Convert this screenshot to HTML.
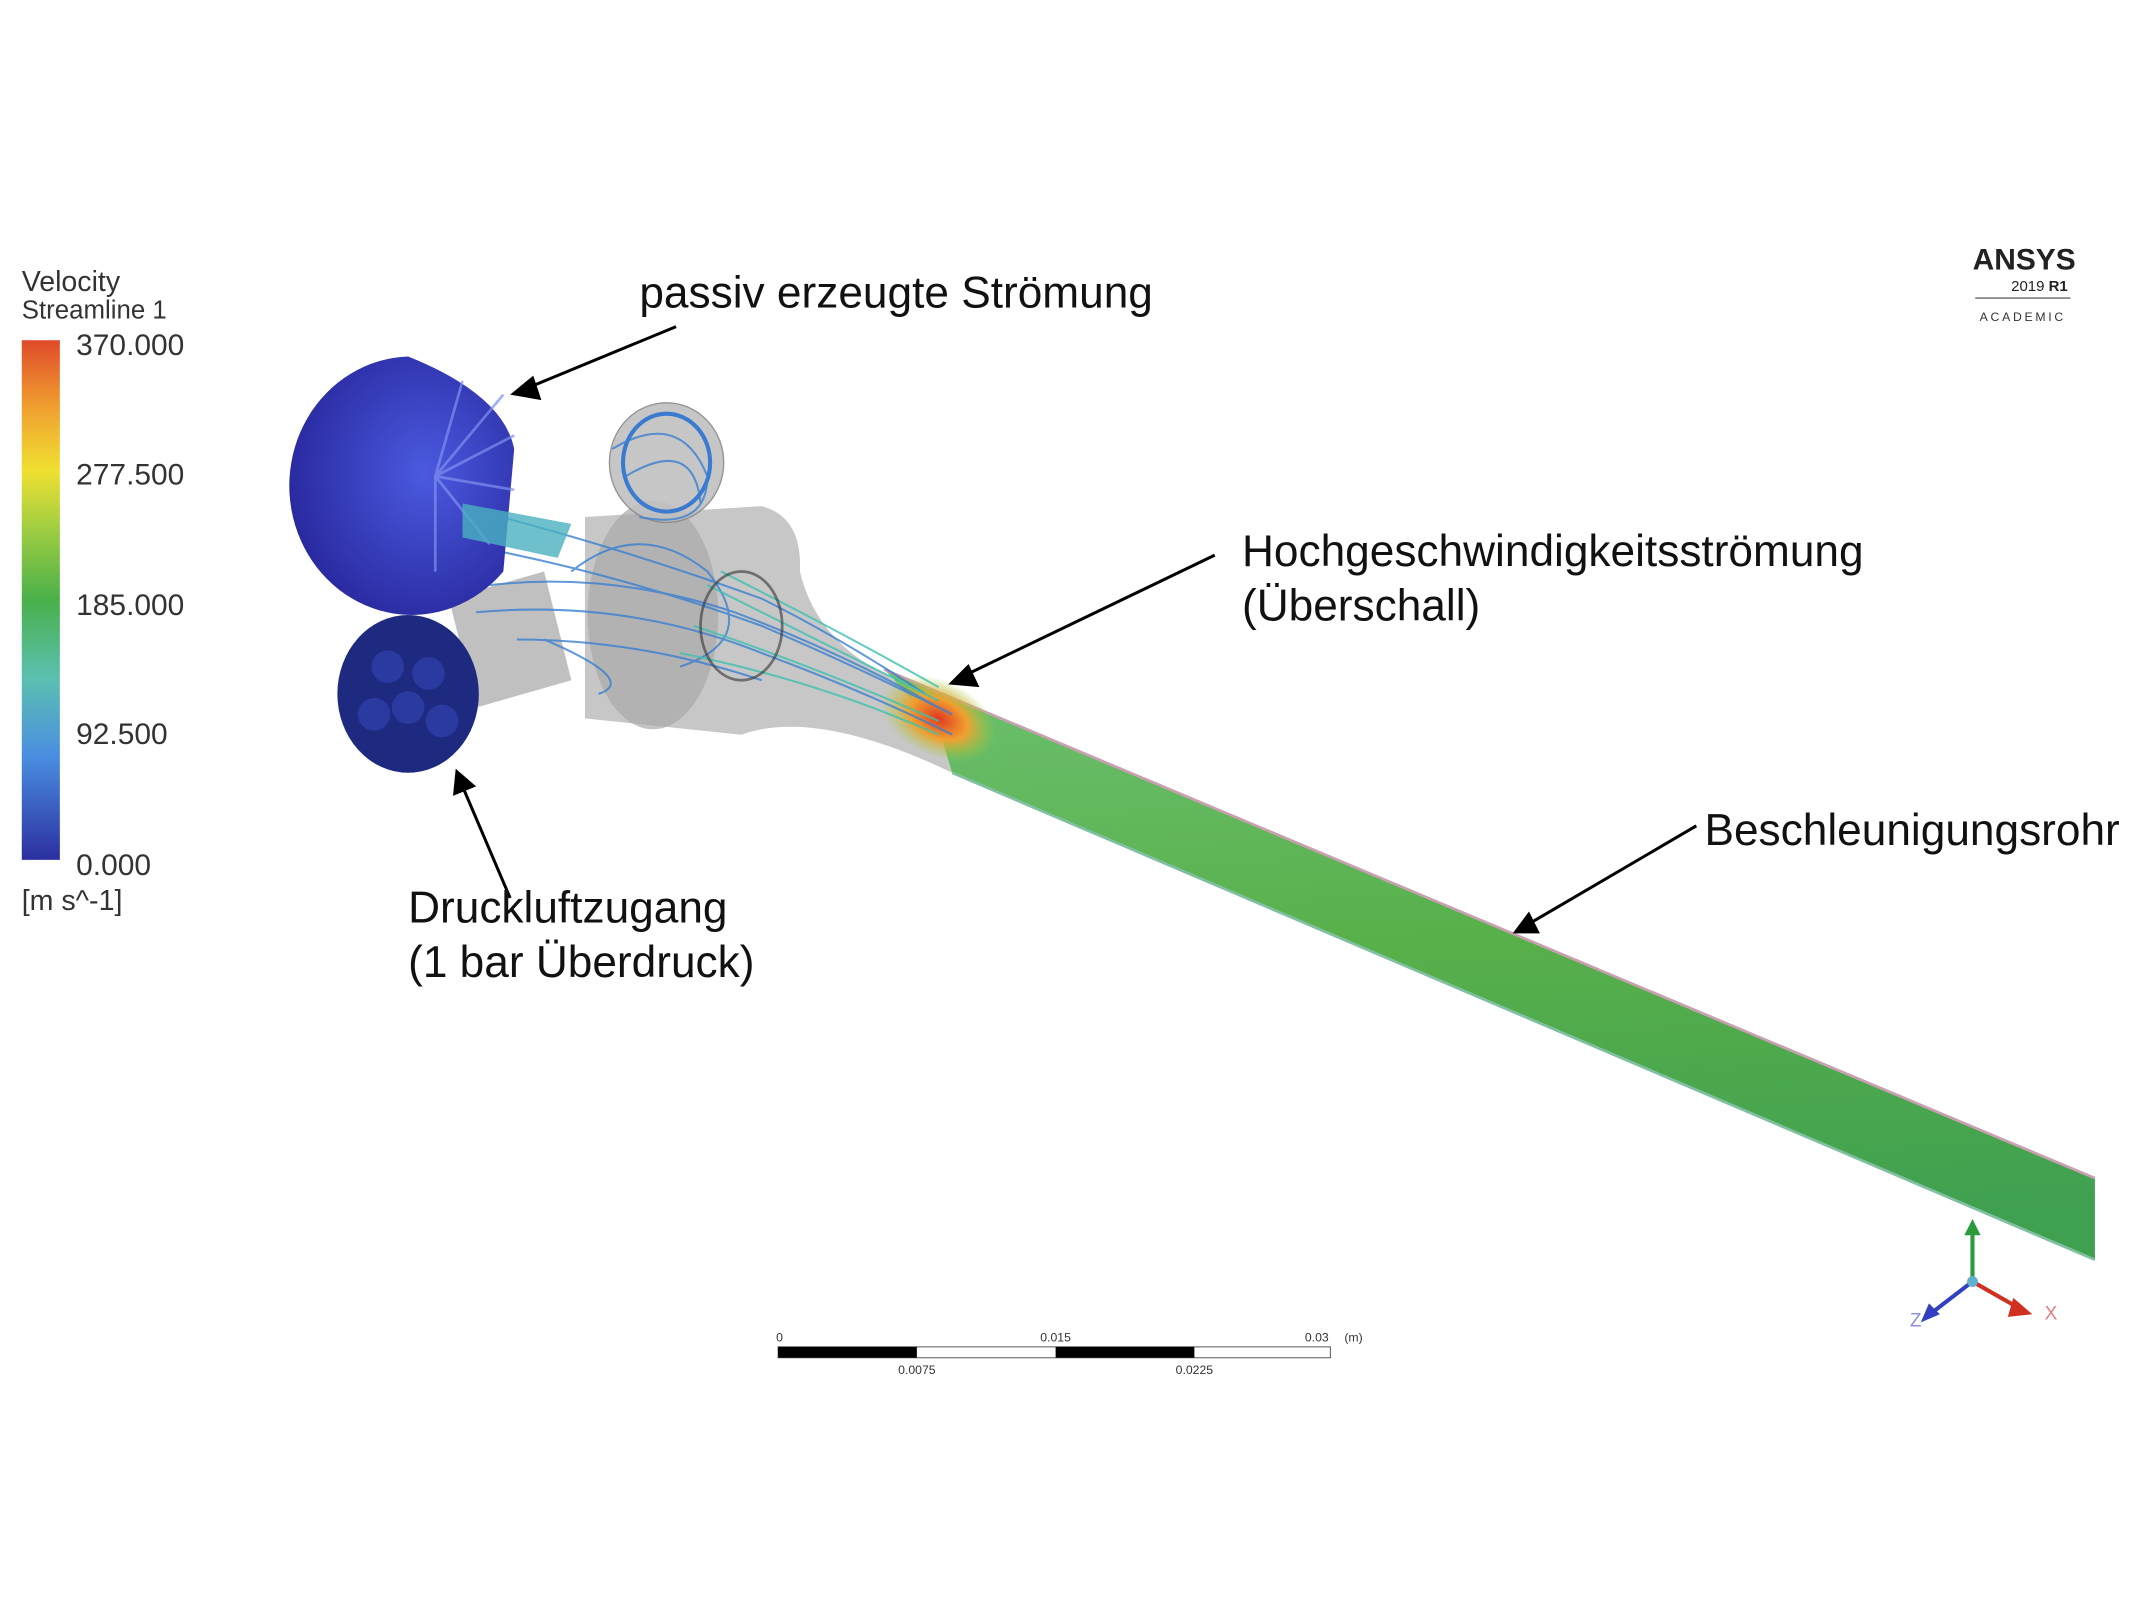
<!DOCTYPE html>
<html><head><meta charset="utf-8"><style>
html,body{margin:0;padding:0;background:#fff;}
svg{display:block;}
text{font-family:"Liberation Sans",Arial,sans-serif;}
</style></head><body>
<svg width="2133" height="1600" viewBox="0 0 1568 1176" xmlns="http://www.w3.org/2000/svg">
<defs>
<linearGradient id="cb" x1="0" y1="1" x2="0" y2="0">
<stop offset="0" stop-color="#2b2fa0"/><stop offset="0.2" stop-color="#4a8ee0"/>
<stop offset="0.35" stop-color="#5bc0b0"/><stop offset="0.5" stop-color="#49b04a"/>
<stop offset="0.65" stop-color="#a8d040"/><stop offset="0.75" stop-color="#f0e030"/>
<stop offset="0.87" stop-color="#f0a030"/><stop offset="1" stop-color="#e04a2a"/>
</linearGradient>
<linearGradient id="pipe" x1="0" y1="0" x2="0.1" y2="1">
<stop offset="0" stop-color="#6cc070"/><stop offset="0.5" stop-color="#58b04a"/><stop offset="1" stop-color="#3fa050"/>
</linearGradient>
<radialGradient id="hot" cx="0.5" cy="0.5" r="0.5">
<stop offset="0" stop-color="#e03a20"/><stop offset="0.5" stop-color="#f0a030"/><stop offset="1" stop-color="#a0d040" stop-opacity="0"/>
</radialGradient>
<radialGradient id="sph" cx="0.6" cy="0.45" r="0.6">
<stop offset="0" stop-color="#4a5ae0"/><stop offset="1" stop-color="#2a2aa0"/>
</radialGradient>
</defs>

<!-- legend -->
<text x="16" y="214" font-size="21" fill="#333">Velocity</text>
<text x="16" y="234" font-size="19" fill="#333">Streamline 1</text>
<rect x="16" y="250" width="28" height="382" fill="url(#cb)"/>
<g font-size="22" fill="#333">
<text x="56" y="261">370.000</text>
<text x="56" y="356">277.500</text>
<text x="56" y="452">185.000</text>
<text x="56" y="547">92.500</text>
<text x="56" y="643">0.000</text>
<text x="16" y="669" font-size="21">[m s^-1]</text>
</g>

<!-- ANSYS logo -->
<text x="1488" y="198" font-size="22" font-weight="bold" text-anchor="middle" fill="#222">ANSYS</text>
<text x="1520" y="214" font-size="11" text-anchor="end" fill="#222">2019 <tspan font-weight="bold">R1</tspan></text>
<line x1="1452" y1="219" x2="1522" y2="219" stroke="#666" stroke-width="1"/>
<text x="1487" y="236" font-size="9" letter-spacing="2" text-anchor="middle" fill="#333">ACADEMIC</text>

<!-- nozzle gray bodies -->
<path d="M430,380 L560,372 Q590,380 588,420 Q600,470 650,495 L700,530 L700,568 Q600,520 545,540 L430,528 Z" fill="#bdbdbd" opacity="0.85"/>
<ellipse cx="480" cy="452" rx="48" ry="84" fill="#aaaaaa" opacity="0.7"/>
<ellipse cx="490" cy="340" rx="42" ry="44" fill="#c0c0c0" stroke="#888" opacity="0.9"/>
<ellipse cx="490" cy="340" rx="32" ry="36" fill="none" stroke="#3a7ad0" stroke-width="3"/>
<path d="M330,440 L400,420 L420,500 L350,520 Z" fill="#b0b0b0" opacity="0.8"/>

<!-- pipe -->
<polygon points="650,492 1540,866 1540,926 700,568 690,535" fill="url(#pipe)"/>
<line x1="650" y1="492" x2="1540" y2="866" stroke="#c8a0b0" stroke-width="2"/>
<line x1="700" y1="568" x2="1540" y2="926" stroke="#80c0a0" stroke-width="2"/>
<ellipse cx="690" cy="528" rx="45" ry="28" fill="url(#hot)" transform="rotate(25 690 528)"/>

<!-- streamlines -->
<g fill="none" stroke="#3a80d0" stroke-width="1.5" opacity="0.8">
<path d="M330,370 Q450,400 560,440 Q620,470 680,510"/>
<path d="M340,400 Q450,420 560,460 Q630,490 700,525"/>
<path d="M350,450 Q460,440 560,480 Q640,510 700,540"/>
<path d="M380,470 Q470,470 560,500"/>
<path d="M420,420 Q470,380 520,420 Q560,470 500,490"/>
<path d="M360,430 Q450,420 540,450 Q620,480 690,520"/>
<path d="M450,330 Q500,300 520,350 Q520,390 470,380"/>
<path d="M460,350 Q510,320 515,370"/>
<path d="M400,470 Q470,500 440,510"/>
</g>
<g fill="none" stroke="#40c0b0" stroke-width="1.5" opacity="0.8">
<path d="M520,430 Q600,470 690,515"/><path d="M510,460 Q600,490 690,530"/><path d="M500,480 Q600,500 690,540"/>
<path d="M530,420 Q610,460 690,505"/>
</g>
<ellipse cx="545" cy="460" rx="30" ry="40" fill="none" stroke="#333" stroke-width="2" opacity="0.6"/>

<!-- blue sphere -->
<path d="M300,262 A90,95 0 1 0 370,420 L378,330 Q370,290 300,262 Z" fill="url(#sph)"/>
<g stroke="#8090f0" stroke-width="2" opacity="0.7">
<line x1="320" y1="350" x2="370" y2="290"/><line x1="320" y1="350" x2="378" y2="320"/><line x1="320" y1="350" x2="378" y2="360"/>
<line x1="320" y1="350" x2="360" y2="400"/><line x1="320" y1="350" x2="340" y2="280"/><line x1="320" y1="350" x2="320" y2="420"/>
</g>
<path d="M340,370 L420,385 L410,410 L340,395 Z" fill="#4ab0c0" opacity="0.8"/>

<!-- dark disc -->
<ellipse cx="300" cy="510" rx="52" ry="58" fill="#1e2a80"/>
<g fill="#2a3aa0"><circle cx="285" cy="490" r="12"/><circle cx="315" cy="495" r="12"/><circle cx="300" cy="520" r="12"/><circle cx="275" cy="525" r="12"/><circle cx="325" cy="530" r="12"/></g>

<!-- annotations -->
<g stroke="#000" stroke-width="2.2" fill="none">
<line x1="497" y1="240" x2="388" y2="285"/>
<line x1="893" y1="408" x2="710" y2="496"/>
<line x1="1247" y1="607" x2="1124" y2="679"/>
<line x1="375" y1="660" x2="340" y2="578"/>
</g>
<g fill="#000">
<polygon points="375,290 392,276 398,294"/>
<polygon points="697,503 712,488 720,505"/>
<polygon points="1112,686 1124,670 1132,686"/>
<polygon points="335,565 333,585 350,578"/>
</g>
<g font-size="32.5" fill="#111">
<text x="470" y="226">passiv erzeugte Strömung</text>
<text x="913" y="416">Hochgeschwindigkeitsströmung</text>
<text x="913" y="456">(Überschall)</text>
<text x="1253" y="621">Beschleunigungsrohr</text>
<text x="300" y="678">Druckluftzugang</text>
<text x="300" y="718">(1 bar Überdruck)</text>
</g>

<!-- scale bar -->
<rect x="572" y="990" width="406" height="8" fill="#fff" stroke="#666" stroke-width="0.8"/>
<rect x="572" y="990" width="102" height="8" fill="#000"/>
<rect x="776" y="990" width="102" height="8" fill="#000"/>
<g font-size="9" fill="#333" text-anchor="middle">
<text x="573" y="986">0</text><text x="776" y="986">0.015</text><text x="968" y="986">0.03</text><text x="995" y="986">(m)</text>
<text x="674" y="1010">0.0075</text><text x="878" y="1010">0.0225</text>
</g>

<!-- axes -->
<line x1="1450" y1="940" x2="1450" y2="905" stroke="#2a9a3a" stroke-width="3"/>
<polygon points="1444,908 1456,908 1450,896" fill="#2a9a3a"/>
<line x1="1450" y1="942" x2="1485" y2="962" stroke="#d03020" stroke-width="3"/>
<polygon points="1480,954 1494,966 1476,968" fill="#d03020"/>
<line x1="1450" y1="942" x2="1420" y2="965" stroke="#3040c0" stroke-width="3"/>
<polygon points="1412,972 1426,966 1418,958" fill="#3040c0"/>
<circle cx="1450" cy="942" r="4" fill="#60b0d0"/>
<text x="1503" y="970" font-size="14" fill="#e08080">X</text>
<text x="1404" y="975" font-size="14" fill="#9090e0">Z</text>
</svg>
</body></html>
